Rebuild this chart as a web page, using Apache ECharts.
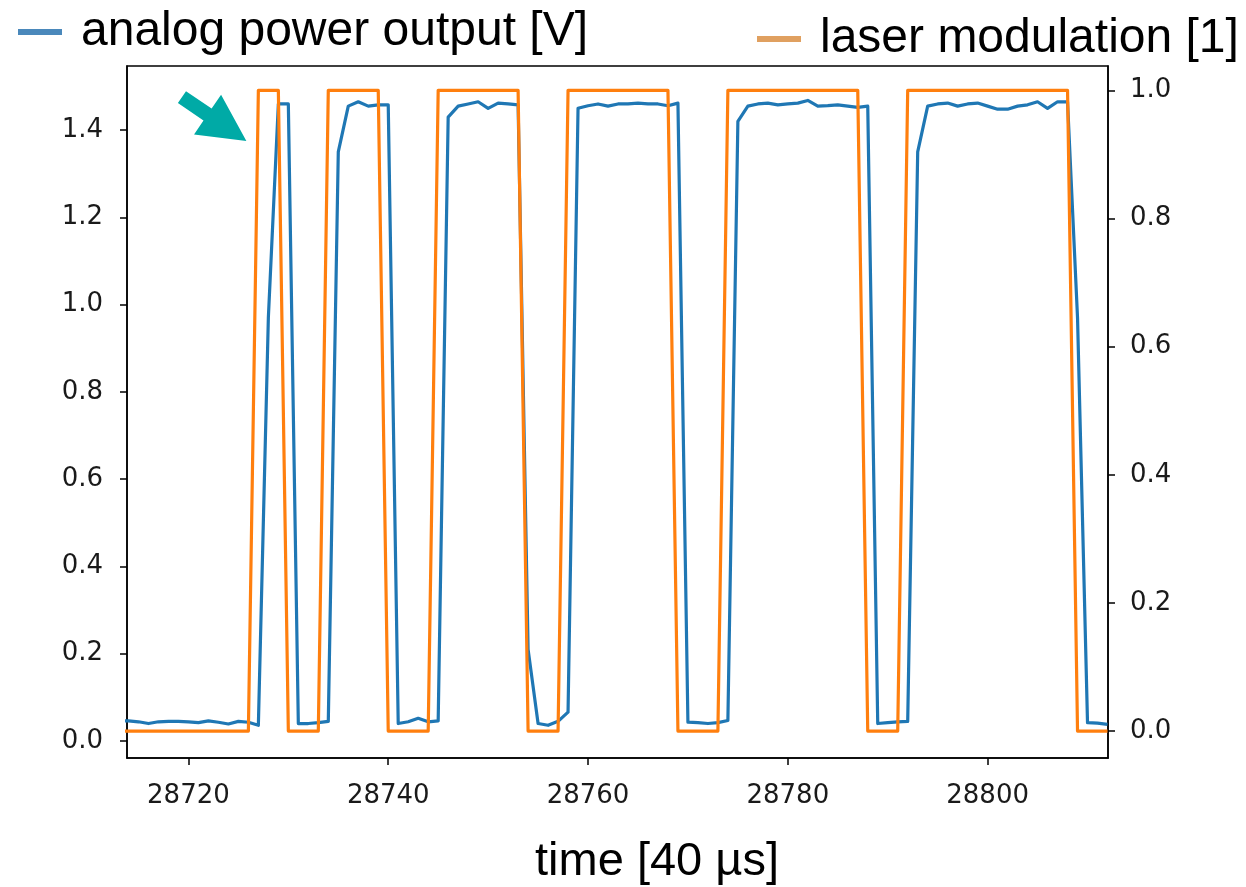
<!DOCTYPE html>
<html>
<head>
<meta charset="utf-8">
<script src="https://cdn.jsdelivr.net/npm/echarts@6/dist/echarts.min.js"></script>
<style>
  html, body { margin: 0; padding: 0; background: #ffffff; }
  #chart { width: 1246px; height: 887px; }
</style>
</head>
<body>
<div id="chart"></div>
<script>
// sample times, in units of 40 µs
const times = [
  28713, 28714, 28715, 28716, 28717, 28718, 28719, 28720, 28721, 28722,
  28723, 28724, 28725, 28726, 28727, 28728, 28729, 28730, 28731, 28732,
  28733, 28734, 28735, 28736, 28737, 28738, 28739, 28740, 28741, 28742,
  28743, 28744, 28745, 28746, 28747, 28748, 28749, 28750, 28751, 28752,
  28753, 28754, 28755, 28756, 28757, 28758, 28759, 28760, 28761, 28762,
  28763, 28764, 28765, 28766, 28767, 28768, 28769, 28770, 28771, 28772,
  28773, 28774, 28775, 28776, 28777, 28778, 28779, 28780, 28781, 28782,
  28783, 28784, 28785, 28786, 28787, 28788, 28789, 28790, 28791, 28792,
  28793, 28794, 28795, 28796, 28797, 28798, 28799, 28800, 28801, 28802,
  28803, 28804, 28805, 28806, 28807, 28808, 28809, 28810, 28811, 28812
];

// photodiode analog output [V]
const powerOutput = [
  0.046, 0.046, 0.044, 0.040, 0.044, 0.045, 0.045, 0.044, 0.042, 0.046,
  0.043, 0.039, 0.045, 0.043, 0.036, 0.970, 1.460, 1.460, 0.040, 0.040,
  0.042, 0.045, 1.350, 1.455, 1.465, 1.455, 1.458, 1.458, 0.040, 0.044,
  0.052, 0.044, 0.046, 1.430, 1.455, 1.460, 1.465, 1.450, 1.462, 1.460,
  1.458, 0.210, 0.040, 0.036, 0.045, 0.066, 1.450, 1.456, 1.460, 1.455,
  1.460, 1.460, 1.462, 1.460, 1.460, 1.456, 1.462, 0.043, 0.042, 0.040,
  0.042, 0.047, 1.420, 1.455, 1.460, 1.462, 1.458, 1.460, 1.462, 1.468,
  1.455, 1.456, 1.458, 1.455, 1.452, 1.455, 0.040, 0.042, 0.044, 0.045,
  1.350, 1.455, 1.460, 1.462, 1.455, 1.460, 1.462, 1.455, 1.448, 1.448,
  1.455, 1.458, 1.465, 1.450, 1.465, 1.465, 0.970, 0.042, 0.041, 0.038
];

// laser on/off modulation
const laserModulation = [
  0, 0, 0, 0, 0, 0, 0, 0, 0, 0,
  0, 0, 0, 0, 1, 1, 1, 0, 0, 0,
  0, 1, 1, 1, 1, 1, 1, 0, 0, 0,
  0, 0, 1, 1, 1, 1, 1, 1, 1, 1,
  1, 0, 0, 0, 0, 1, 1, 1, 1, 1,
  1, 1, 1, 1, 1, 1, 0, 0, 0, 0,
  0, 1, 1, 1, 1, 1, 1, 1, 1, 1,
  1, 1, 1, 1, 1, 0, 0, 0, 0, 1,
  1, 1, 1, 1, 1, 1, 1, 1, 1, 1,
  1, 1, 1, 1, 1, 1, 0, 0, 0, 0
];

const timeTicks = [28720, 28740, 28760, 28780, 28800];
const powerTicks = [0.0, 0.2, 0.4, 0.6, 0.8, 1.0, 1.2, 1.4];
const modulationTicks = [0.0, 0.2, 0.4, 0.6, 0.8, 1.0];

const seriesNames = ['analog power output [V]', 'laser modulation [1]'];
const xTitle = 'time [40 µs]';

const BLUE = '#1f77b4';
const ORANGE = '#ff7f0e';
const TICK_FONT = { fontFamily: 'DejaVu Sans', fontSize: 26, color: '#1a1a1a' };
const BIG_FONT = 'Liberation Sans';

const chart = echarts.init(document.getElementById('chart'), null, { renderer: 'canvas' });

const tickStyle = { show: true, length: 7, lineStyle: { color: '#000', width: 1.5 } };
const lineAxis = { show: true, onZero: false, lineStyle: { color: '#000', width: 1.5 } };

chart.setOption({
  backgroundColor: '#ffffff',
  animation: false,
  grid: {
    left: 127, right: 138, top: 66, bottom: 129,
    show: true, borderColor: '#000', borderWidth: 1.5, backgroundColor: '#ffffff'
  },
  legend: [
    {
      data: [seriesNames[0]],
      left: 18, top: 8, padding: 0,
      icon: 'rect', itemWidth: 44, itemHeight: 6,
      itemStyle: { color: '#4a88bb' },
      textStyle: { fontFamily: BIG_FONT, fontSize: 48, color: '#000', padding: [0, 0, 0, 14] }
    },
    {
      data: [seriesNames[1]],
      left: 757, top: 15, padding: 0,
      icon: 'rect', itemWidth: 44, itemHeight: 6,
      itemStyle: { color: '#e0a060' },
      textStyle: { fontFamily: BIG_FONT, fontSize: 48, color: '#000', padding: [0, 0, 0, 14] }
    }
  ],
  xAxis: {
    type: 'value',
    min: 28713.85, max: 28812.05,
    axisLine: lineAxis,
    axisTick: Object.assign({ customValues: timeTicks }, tickStyle),
    axisLabel: Object.assign({ customValues: timeTicks, margin: 25, formatter: v => String(v) }, TICK_FONT),
    splitLine: { show: false }
  },
  yAxis: [
    {
      type: 'value',
      position: 'left',
      min: -0.039, max: 1.547,
      axisLine: lineAxis,
      axisTick: Object.assign({ customValues: powerTicks }, tickStyle),
      axisLabel: Object.assign({ customValues: powerTicks, margin: 24, formatter: v => v.toFixed(1) }, TICK_FONT),
      splitLine: { show: false }
    },
    {
      type: 'value',
      position: 'right',
      min: -0.042, max: 1.038,
      axisLine: lineAxis,
      axisTick: Object.assign({ customValues: modulationTicks }, tickStyle),
      axisLabel: Object.assign({ customValues: modulationTicks, margin: 22, formatter: v => v.toFixed(1) }, TICK_FONT),
      splitLine: { show: false }
    }
  ],
  series: [
    {
      name: seriesNames[0],
      type: 'line',
      yAxisIndex: 0,
      data: times.map((t, i) => [t, powerOutput[i]]),
      showSymbol: false,
      clip: true,
      z: 2,
      lineStyle: { color: BLUE, width: 3.2, join: 'round' },
      itemStyle: { color: BLUE }
    },
    {
      name: seriesNames[1],
      type: 'line',
      yAxisIndex: 1,
      data: times.map((t, i) => [t, laserModulation[i]]),
      showSymbol: false,
      clip: true,
      z: 3,
      lineStyle: { color: ORANGE, width: 3.2, join: 'round' },
      itemStyle: { color: ORANGE }
    }
  ]
});

// annotation arrow pointing at the first rising edge, plus axis title
const tip = chart.convertToPixel({ xAxisIndex: 0, yAxisIndex: 0 }, [28725.8, 1.375]);
const ang = Math.atan2(43.8, 64.2);
const len = 78;
const arrowShape = [[0, -7.2], [31, -7.2], [31, -24], [len, 0], [31, 24], [31, 7.2], [0, 7.2]];
const ca = Math.cos(ang), sa = Math.sin(ang);
const ox = tip[0] - len * ca, oy = tip[1] - len * sa;
const arrowPts = arrowShape.map(([x, y]) => [ox + x * ca - y * sa, oy + x * sa + y * ca]);

chart.setOption({
  graphic: [
    {
      type: 'polygon',
      shape: { points: arrowPts },
      style: { fill: '#00aaa6' },
      z: 100
    },
    {
      type: 'text',
      x: 657, y: 862,
      style: {
        text: xTitle,
        fontFamily: BIG_FONT, fontSize: 47, fill: '#000',
        textAlign: 'center', textVerticalAlign: 'middle'
      }
    }
  ]
});
</script>
</body>
</html>
